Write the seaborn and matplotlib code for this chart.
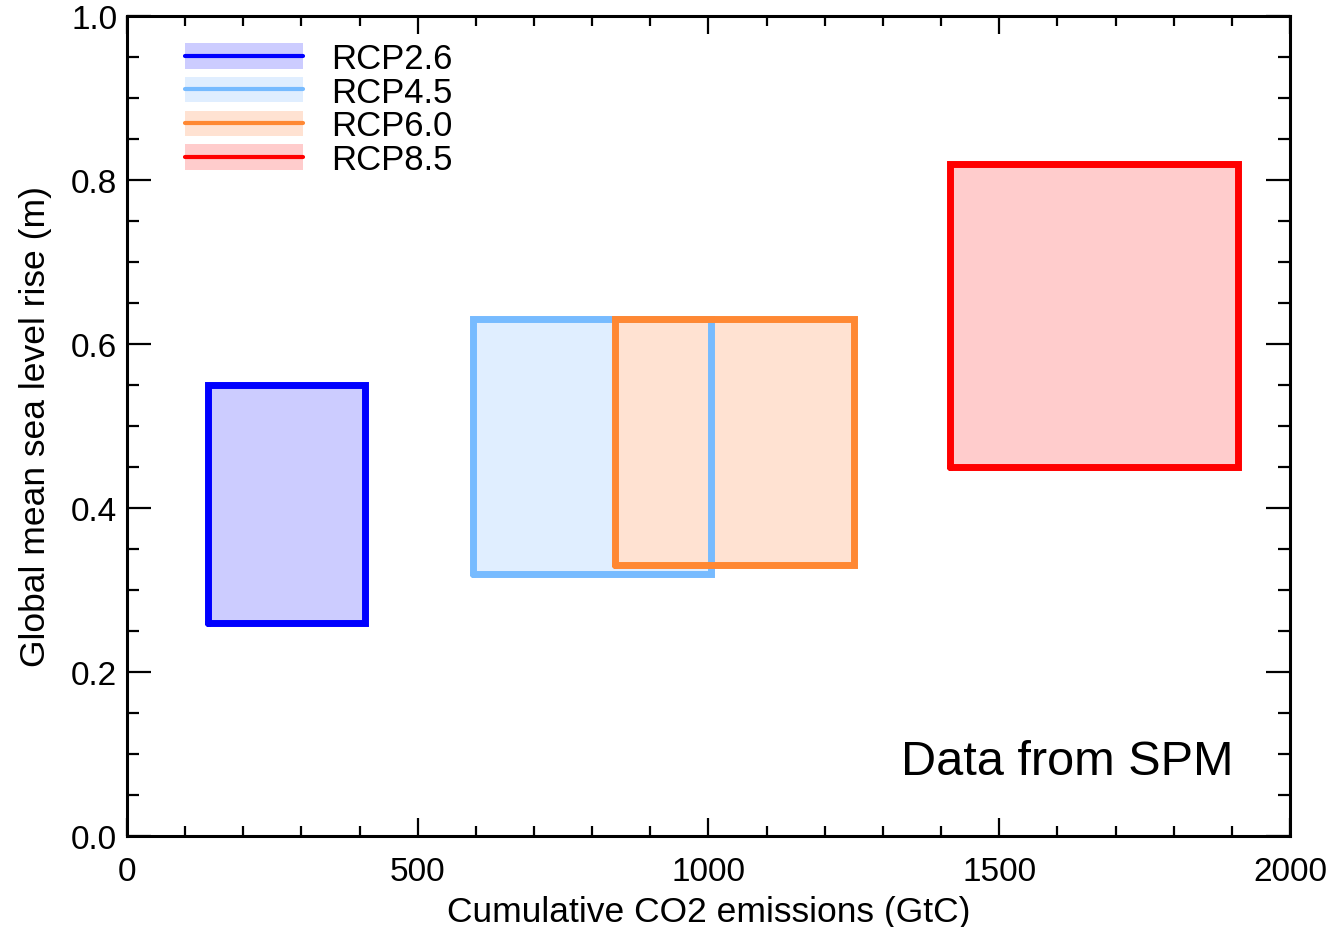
import numpy as np
import pandas as pd
import matplotlib
matplotlib.use("Agg")
import matplotlib.pyplot as plt
from matplotlib.patches import Patch
from matplotlib.lines import Line2D
from matplotlib.ticker import MultipleLocator, FormatStrFormatter
import seaborn as sns

# --- data ---
scenarios = ["RCP2.6", "RCP4.5", "RCP6.0", "RCP8.5"]
emis_low = [140, 595, 840, 1415]      # GtC
emis_high = [410, 1005, 1250, 1910]
slr_low = [0.26, 0.32, 0.33, 0.45]    # m
slr_high = [0.55, 0.63, 0.63, 0.82]

line_colors = ["#0000FF", "#77BBFF", "#FF8833", "#FF0000"]
fill_colors = ["#CCCCFF", "#E0EEFF", "#FFE2D2", "#FFCCCC"]

# closed outline for each box
rows = []
for s, x0, x1, y0, y1 in zip(scenarios, emis_low, emis_high, slr_low, slr_high):
    for x, y in [(x0, y0), (x0, y1), (x1, y1), (x1, y0), (x0, y0)]:
        rows.append({"scenario": s, "emissions": x, "slr": y})
outline = pd.DataFrame(rows)

sns.set_style("ticks")
plt.rcParams["font.family"] = ["Liberation Sans", "DejaVu Sans"]
plt.rcParams["text.color"] = "black"
plt.rcParams["axes.labelcolor"] = "black"

fig = plt.figure(figsize=(13.32, 9.28), dpi=100)
ax = fig.add_axes([0.0953, 0.098, 0.8732, 0.8838])

# fills first, then the outlines on top
for x0, x1, y0, y1, fc in zip(emis_low, emis_high, slr_low, slr_high, fill_colors):
    ax.fill_between([x0, x1], y0, y1, color=fc, lw=0, zorder=1)

sns.lineplot(data=outline, x="emissions", y="slr", hue="scenario",
             palette=dict(zip(scenarios, line_colors)), estimator=None,
             sort=False, lw=5, legend=False, ax=ax, zorder=2,
             solid_joinstyle="miter")

ax.set_xlim(0, 2000)
ax.set_ylim(0, 1.0)
ax.xaxis.set_major_locator(MultipleLocator(500))
ax.xaxis.set_minor_locator(MultipleLocator(100))
ax.yaxis.set_major_locator(MultipleLocator(0.2))
ax.yaxis.set_minor_locator(MultipleLocator(0.05))
ax.yaxis.set_major_formatter(FormatStrFormatter("%.1f"))

ax.tick_params(which="both", direction="in", top=True, right=True,
               width=1.6, colors="black", labelsize=24)
ax.tick_params(axis="x", which="major", length=13, pad=14)
ax.tick_params(axis="x", which="minor", length=7)
ax.tick_params(axis="y", which="major", length=17, pad=7)
ax.tick_params(axis="y", which="minor", length=8.5)
for sp in ax.spines.values():
    sp.set_linewidth(2.2)
    sp.set_color("black")

ax.set_xlabel("Cumulative CO2 emissions (GtC)", fontsize=25.5, labelpad=6)
ax.set_ylabel("Global mean sea level rise (m)", fontsize=25.5, labelpad=14)

ax.text(1902, 0.091, "Data from SPM", fontsize=35, ha="right", va="center")

handles = [(Patch(facecolor=fc, edgecolor="none"), Line2D([], [], color=lc, lw=3))
           for fc, lc in zip(fill_colors, line_colors)]
ax.legend(handles, scenarios, loc="upper left", bbox_to_anchor=(0.038, 0.985),
          frameon=False, fontsize=25, handlelength=3.4, handleheight=0.75,
          handletextpad=0.8, labelspacing=0.02, borderaxespad=0)

fig.savefig("out.png", dpi=100)
